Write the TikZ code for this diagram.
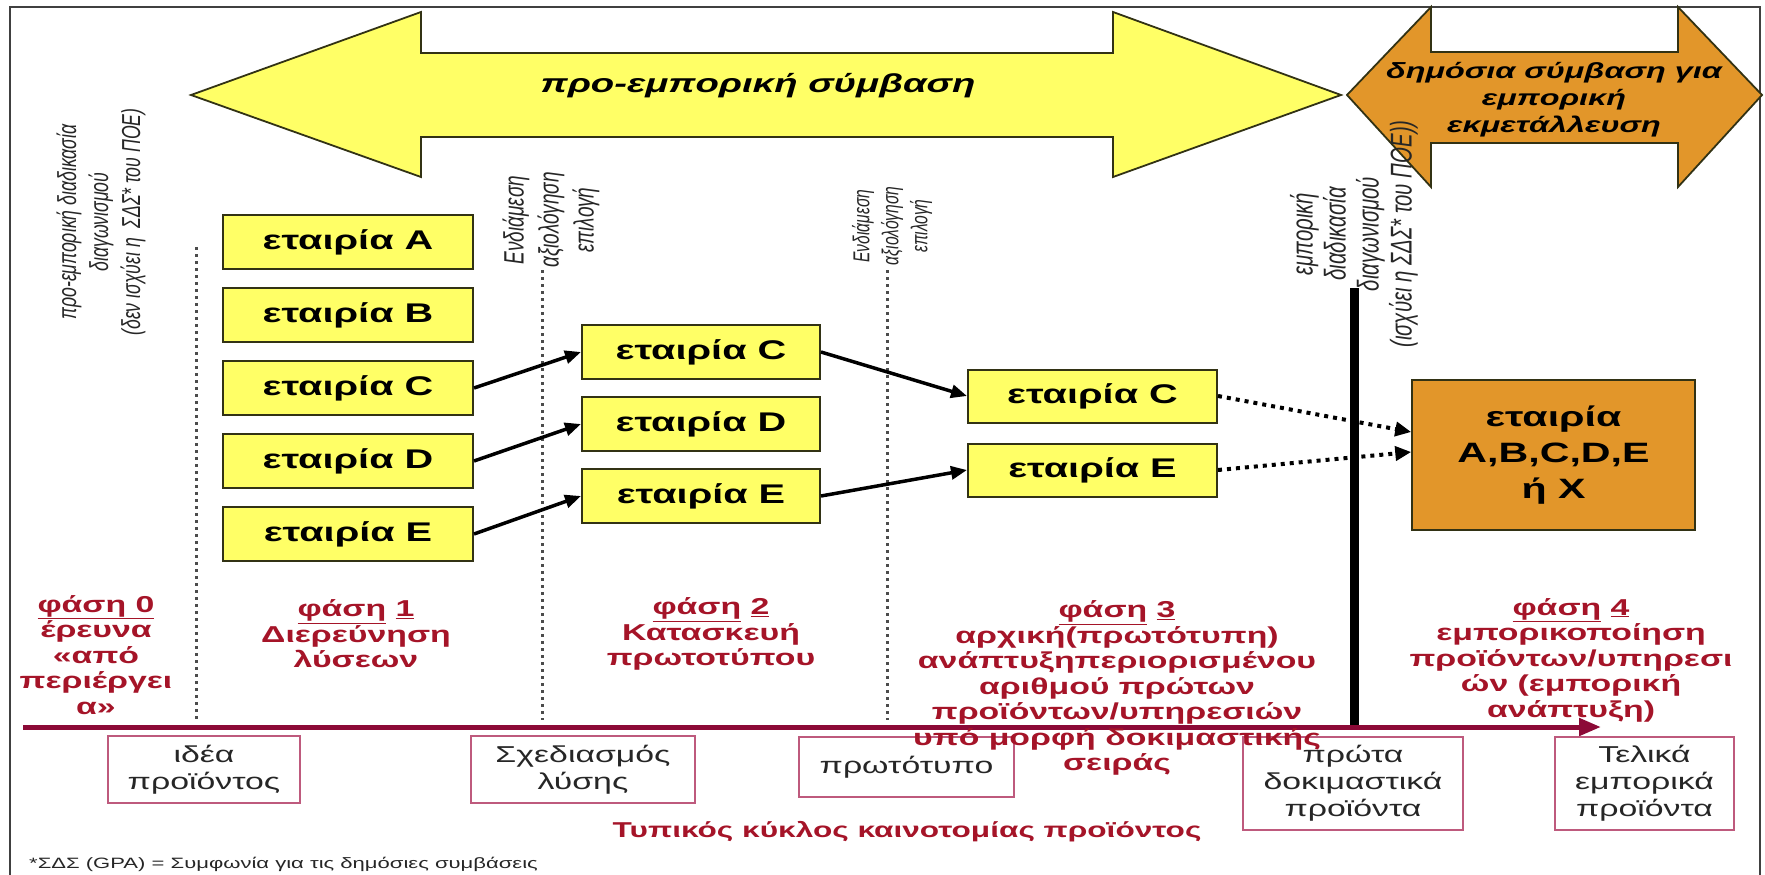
\documentclass[tikz,border=0pt]{standalone}
\usepackage{fontspec}
\setmainfont{Liberation Sans}
\newfontfamily\wf[FakeStretch=1.47]{Liberation Sans}
\newfontfamily\rf[FakeStretch=0.68]{Liberation Sans}
\usetikzlibrary{arrows.meta}
\definecolor{ybox}{RGB}{255,255,102}
\definecolor{oarr}{RGB}{226,150,42}
\definecolor{tlred}{RGB}{140,10,55}
\definecolor{phred}{RGB}{165,20,40}
\definecolor{pinkb}{RGB}{190,90,125}
\definecolor{edgec}{RGB}{50,50,20}
\tikzset{
  company/.style={draw=edgec, line width=2pt, fill=ybox, minimum height=54pt, inner sep=0pt,
    font=\wf\bfseries\fontsize{27}{32}\selectfont},
  obox/.style={draw=edgec, line width=1.5pt, fill=oarr, inner sep=0pt, align=center,
    font=\wf\bfseries\fontsize{28}{36}\selectfont},
  phase/.style={align=center, inner sep=0pt, text=phred,
    font=\wf\bfseries\fontsize{23}{25.5}\selectfont},
  prod/.style={draw=pinkb, line width=1.8pt, inner sep=0pt, align=center,
    font=\wf\fontsize{23}{27}\selectfont, text=black!85},
  rlab/.style={rotate=90, align=center, inner sep=0pt, text=black!85},
  conn/.style={line width=3.5pt, -{Triangle[length=16pt,width=13pt]}},
  dconn/.style={line width=4pt, dash pattern=on 4pt off 5pt, -{Triangle[length=16pt,width=14pt]}},
  sep/.style={line width=3pt, dash pattern=on 3pt off 4pt, draw=black!70},
  bigarrow/.style={draw=edgec, line width=1.8pt, line join=miter}
}
\begin{document}
\begin{tikzpicture}[x=1pt,y=-1pt]
\useasboundingbox (0,0) rectangle (1765,875);
% frame
\draw[line width=1.8pt, black!75] (10,876) -- (10,7) -- (1760,7) -- (1760,876);

% yellow double arrow
\draw[bigarrow, fill=ybox] (191,95) -- (421,12) -- (421,53) -- (1113,53) -- (1113,12)
  -- (1341,95) -- (1113,177) -- (1113,137) -- (421,137) -- (421,177) -- cycle;
\node[font=\wf\bfseries\itshape\fontsize{26}{30}\selectfont] (yt) at (758,86) {προ-εμπορική σύμβαση};

% orange double arrow
\draw[bigarrow, fill=oarr] (1347,95) -- (1431,7) -- (1431,52) -- (1678,52) -- (1678,7)
  -- (1762,95) -- (1678,187) -- (1678,143) -- (1431,143) -- (1431,187) -- cycle;
\node[align=center, inner sep=0pt, font=\wf\bfseries\itshape\fontsize{22}{27}\selectfont] (ot) at (1554,100)
  {δημόσια σύμβαση για\\εμπορική\\εκμετάλλευση};

% dotted separators
\draw[sep] (196,247) -- (196,720);
\draw[sep] (542,270) -- (542,720);
\draw[sep] (887,270) -- (887,720);

% rotated labels
\node[rlab, font=\rf\itshape\fontsize{26}{32}\selectfont] (l0) at (101,222)
  {προ-εμπορική διαδικασία\\διαγωνισμού\\(δεν ισχύει η \ ΣΔΣ* του ΠΟΕ)};
\node[rlab, font=\rf\itshape\fontsize{28}{35}\selectfont] (l1) at (551,220)
  {Ενδιάμεση\\αξιολόγηση\\επιλογή};
\node[rlab, font=\rf\itshape\fontsize{23}{29}\selectfont] (l2) at (892,226)
  {Ενδιάμεση\\αξιολόγηση\\επιλογή};

% black line (commercial procurement)
\coordinate (bl0) at (1354,288);
\coordinate (bl1) at (1354,727);
\draw[line width=9pt] (bl0) -- (bl1);
\node[rlab, font=\rf\itshape\fontsize{30}{33}\selectfont] (l3) at (1354,234)
  {εμπορική\\διαδικασία\\διαγωνισμού\\(ισχύει η ΣΔΣ* του ΠΟΕ))};

% companies
\node[company, minimum width=250pt] (A1) at (348,242) {εταιρία A};
\node[company, minimum width=250pt] (B1) at (348,315) {εταιρία B};
\node[company, minimum width=250pt] (C1) at (348,388) {εταιρία C};
\node[company, minimum width=250pt] (D1) at (348,461) {εταιρία D};
\node[company, minimum width=250pt] (E1) at (348,534) {εταιρία E};
\node[company, minimum width=238pt] (C2) at (701,352) {εταιρία C};
\node[company, minimum width=238pt] (D2) at (701,424) {εταιρία D};
\node[company, minimum width=238pt] (E2) at (701,496) {εταιρία E};
\node[company, minimum width=249pt, minimum height=53pt] (C3) at (1092.5,396) {εταιρία C};
\node[company, minimum width=249pt, minimum height=53pt] (E3) at (1092.5,470) {εταιρία E};
\node[obox, minimum width=283pt, minimum height=150pt] (OX) at (1553.5,455) {εταιρία\\A,B,C,D,E\\ή X};

% connectors
\draw[conn] (C1.east) -- (C2.west);
\draw[conn] (D1.east) -- (D2.west);
\draw[conn] (E1.east) -- (E2.west);
\draw[conn] (C2.east) -- (C3.west);
\draw[conn] (E2.east) -- (E3.west);
\draw[dconn] (C3.east) -- ([yshift=23pt]OX.west);
\draw[dconn] (E3.east) -- ([yshift=3pt]OX.west);

% timeline
\coordinate (tl0) at (23,727);
\coordinate (tl1) at (1601,727);
\draw[line width=5pt, tlred, -{Triangle[length=22pt,width=17pt]}] (tl0) -- (tl1);

% product boxes
\node[prod, minimum width=192pt, minimum height=67pt] (p1) at (204,769.5) {ιδέα\\προϊόντος};
\node[prod, minimum width=224pt, minimum height=67pt] (p2) at (583,769.5) {Σχεδιασμός\\λύσης};
\node[prod, minimum width=215pt, minimum height=60pt] (p3) at (906.5,767) {πρωτότυπο};
\node[prod, minimum width=220pt, minimum height=93pt] (p4) at (1353,783.5) {πρώτα\\δοκιμαστικά\\προϊόντα};
\node[prod, minimum width=179pt, minimum height=93pt] (p5) at (1644.5,783.5) {Τελικά\\εμπορικά\\προϊόντα};

% phases
\node[phase] (f0) at (96,655) {\underline{φάση 0}\\έρευνα\\«από\\περιέργει\\α»};
\node[phase] (f1) at (356,634) {\underline{φάση} \underline{1}\\Διερεύνηση\\λύσεων};
\node[phase] (f2) at (711,634) {\underline{φάση} \underline{2}\\Κατασκευή\\πρωτοτύπου};
\node[phase] (f3) at (1117,688) {\underline{φάση} \underline{3}\\αρχική(πρωτότυπη)\\ανάπτυξηπεριορισμένου\\αριθμού πρώτων\\προϊόντων/υπηρεσιών\\υπό μορφή δοκιμαστικής\\σειράς};
\node[phase] (f4) at (1571,660) {\underline{φάση} \underline{4}\\εμπορικοποίηση\\προϊόντων/υπηρεσι\\ών (εμπορική\\ανάπτυξη)};

% title and footnote
\node[inner sep=0pt, text=phred, font=\wf\bfseries\fontsize{21.5}{25}\selectfont] (title) at (907,832)
  {Τυπικός κύκλος καινοτομίας προϊόντος};
\node[anchor=west, inner sep=0pt, text=black!85, font=\wf\fontsize{15}{18}\selectfont] (fn) at (29,864)
  {*ΣΔΣ (GPA) = Συμφωνία για τις δημόσιες συμβάσεις};
\end{tikzpicture}
\end{document}
